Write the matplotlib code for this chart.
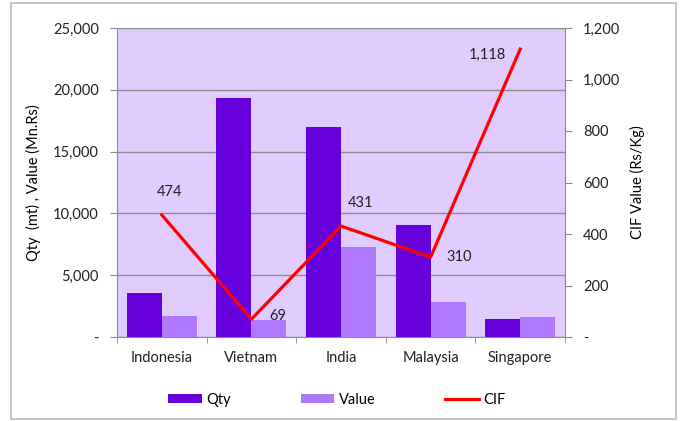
import numpy as np
import matplotlib.pyplot as plt
from matplotlib.patches import Rectangle
from matplotlib.ticker import FuncFormatter, FixedLocator

plt.rcParams['font.family'] = ['Lato', 'DejaVu Sans']

countries = ['Indonesia', 'Vietnam', 'India', 'Malaysia', 'Singapore']
qty = [3600, 19300, 17000, 9100, 1450]
value = [1700, 1350, 7300, 2850, 1600]
cif = [474, 69, 431, 310, 1118]

# label offsets (px) for the CIF data labels
lbl_off = [(8, 23), (26, 3), (20, 23), (29, 0), (-33, -6)]

qty_col = '#6600DD'
val_col = '#B077FF'
bg_col = '#E0CCFF'
grid_col = '#8C8C8C'
fs = 10.5

fig = plt.figure(figsize=(6.8, 4.21), dpi=100)
ax = fig.add_axes([117/680, 1 - 337/421, 448/680, 309/421])
ax.set_facecolor(bg_col)

x = np.arange(len(countries))
w = 0.39
ax.bar(x - w/2, qty, w, color=qty_col, label='Qty', zorder=3)
ax.bar(x + w/2, value, w, color=val_col, label='Value', zorder=3)

ax.set_xlim(-0.5, len(countries) - 0.5)
ax.set_ylim(0, 25000)
ax.set_yticks(np.arange(0, 25001, 5000))
fmt = FuncFormatter(lambda v, p: '-' if v == 0 else f'{v:,.0f}')
ax.yaxis.set_major_formatter(fmt)
ax.grid(axis='y', color=grid_col, linewidth=1, zorder=1)
ax.set_axisbelow(True)

ax.set_xticks(x)
ax.set_xticklabels(countries)
ax.xaxis.set_minor_locator(FixedLocator(np.arange(-0.5, len(countries), 1)))
ax.tick_params(axis='x', which='major', length=0, pad=10)
ax.tick_params(axis='x', which='minor', length=4, color=grid_col)
ax.tick_params(axis='y', length=5, color=grid_col, pad=8)
ax.tick_params(labelsize=fs, labelcolor='#222222')

for s in ['top', 'right']:
    ax.spines[s].set_visible(False)
for s in ['left', 'bottom']:
    ax.spines[s].set_color(grid_col)

ax.set_ylabel('Qty  (mt) , Value (Mn.Rs)', fontsize=fs, labelpad=9)

ax2 = ax.twinx()
ax2.plot(x, cif, color='#FF0000', linewidth=2.3, label='CIF', zorder=4)
ax2.set_ylim(0, 1200)
ax2.set_yticks(np.arange(0, 1201, 200))
ax2.yaxis.set_major_formatter(fmt)
ax2.tick_params(axis='y', length=5, color=grid_col, labelsize=fs, labelcolor='#222222', pad=8)
for s in ['top', 'left', 'bottom']:
    ax2.spines[s].set_visible(False)
ax2.spines['right'].set_color(grid_col)
ax2.set_ylabel('CIF Value (Rs/Kg)', fontsize=fs, labelpad=7)

for xi, c, (dx, dy) in zip(x, cif, lbl_off):
    ax2.annotate(f'{c:,}', (xi, c), xytext=(dx * 0.72, dy * 0.72),
                 textcoords='offset points', ha='center', va='center',
                 fontsize=fs, color='#222222')

h1, l1 = ax.get_legend_handles_labels()
h2, l2 = ax2.get_legend_handles_labels()
fig.legend(h1 + h2, l1 + l2, loc='center', bbox_to_anchor=(337/680, 1 - 400/421),
           ncol=3, frameon=False, fontsize=fs, handlelength=2.3, handleheight=0.55,
           handletextpad=0.3, columnspacing=4.8)

fig.patches.append(Rectangle((11/680, 2/421), 665/680, 416/421, transform=fig.transFigure,
                             fill=False, edgecolor='#BFBFBF', linewidth=1.2))

fig.savefig('out.png', dpi=100)
plt.close()
